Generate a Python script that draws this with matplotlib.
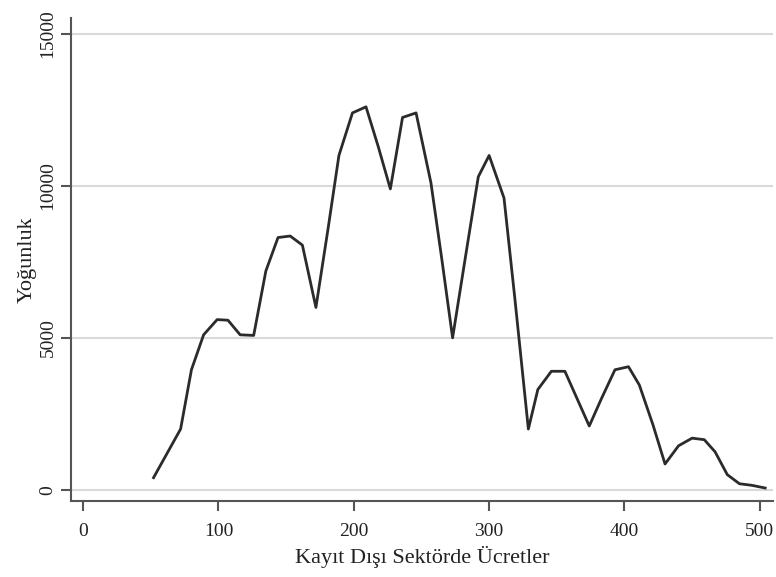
import numpy as np
import matplotlib.pyplot as plt
from matplotlib import rcParams

rcParams['font.family'] = ['Liberation Serif', 'DejaVu Serif']

# ücret değerleri ve yoğunluk
ucret = [52, 72, 80, 89, 99, 107, 116, 126, 135, 144, 153, 162, 172, 181,
         189, 199, 209, 218, 227, 236, 246, 257, 265, 273, 283, 292, 300,
         311, 319, 329, 336, 346, 356, 364, 374, 383, 393, 403, 411, 421,
         430, 440, 450, 459, 467, 476, 485, 494, 504]
yogunluk = [400, 2000, 3950, 5100, 5600, 5580, 5100, 5080, 7200, 8300, 8350,
            8050, 6000, 8600, 11000, 12400, 12600, 11300, 9900, 12250, 12400,
            10100, 7600, 5000, 7800, 10300, 11000, 9600, 6300, 2000, 3300,
            3900, 3900, 3100, 2100, 3000, 3950, 4050, 3450, 2150, 850, 1450,
            1700, 1650, 1250, 500, 200, 150, 60]

fig = plt.figure(figsize=(7.76, 5.77), dpi=100)
ax = fig.add_axes([0.0915, 0.132, 0.905, 0.837])

ax.plot(ucret, yogunluk, color='#2b2b2b', linewidth=2)

ax.set_xlim(-9, 510)
ax.set_ylim(-362, 15526)
ax.set_xticks([0, 100, 200, 300, 400, 500])
ax.set_yticks([0, 5000, 10000, 15000])
ax.yaxis.grid(True, color='#d9d9d9', linewidth=1.5)
ax.set_axisbelow(True)

for s in ['top', 'right']:
    ax.spines[s].set_visible(False)
for s in ['left', 'bottom']:
    ax.spines[s].set_color('#555555')
    ax.spines[s].set_linewidth(1.5)

ax.tick_params(axis='both', colors='#555555', width=1.5, length=7,
               labelsize=14, labelcolor='#222222')
ax.tick_params(axis='x', pad=9)
plt.setp(ax.get_yticklabels(), rotation=90, va='center')

ax.set_xlabel('Kayıt Dışı Sektörde Ücretler', fontsize=16, color='#222222',
              labelpad=4)
ax.set_ylabel('Yoğunluk', fontsize=16, color='#222222', labelpad=2)

plt.savefig('out.png', dpi=100)
